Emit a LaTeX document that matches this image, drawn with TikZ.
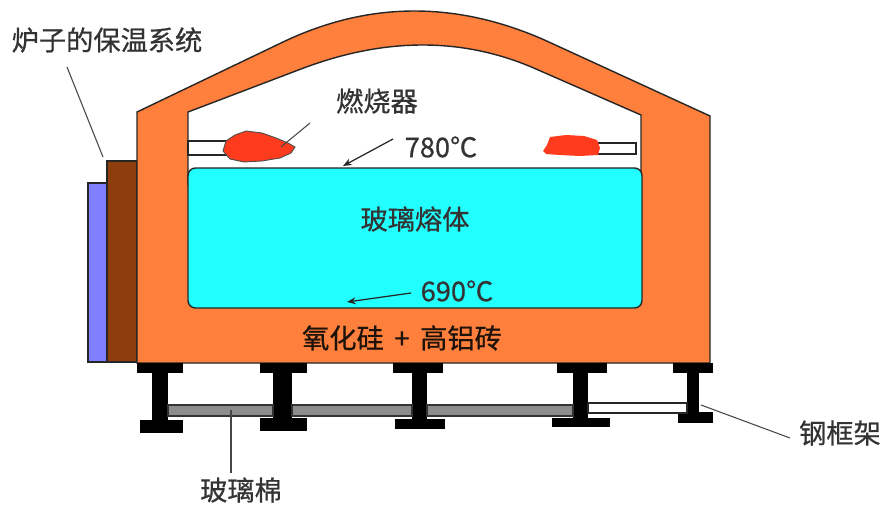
\documentclass[tikz,border=0pt]{standalone}
\usepackage{fontspec}
\newfontfamily\cjk[FakeBold=0.6]{Noto Sans CJK SC}
\usetikzlibrary{arrows.meta}
\definecolor{brick}{HTML}{FF7F3C}
\definecolor{melt}{HTML}{22FFFF}
\definecolor{flame}{HTML}{FF3B1E}
\definecolor{felt}{HTML}{8080FF}
\definecolor{board}{HTML}{8E3E0C}
\definecolor{wool}{HTML}{8C8C8C}
\definecolor{ink}{HTML}{333333}
\tikzset{
  outline/.style={draw=black!85, line width=0.8pt},
  label/.style={font=\cjk\fontsize{15.5}{17}\selectfont, text=ink, inner sep=1pt},
  leader/.style={draw=ink!90, line width=0.6pt},
  pointer/.style={draw=black!85, line width=0.7pt, -{Stealth[length=5pt,width=4pt]}},
  beam/.style={fill=black},
  woolbar/.style={fill=wool, draw=black!80, line width=0.6pt},
}
\begin{document}
\begin{tikzpicture}[x=0.02cm, y=-0.02cm]
  \useasboundingbox (0,0) rectangle (883,507);

  % insulation layers on the left wall
  \fill[felt, outline] (88,183) rectangle (107,362);
  \fill[board, outline] (107,161) rectangle (137,362);

  % refractory body (silica + high-alumina brick)
  \fill[brick, outline] (137,363) -- (137,112) -- (282,42.5)
    .. controls (369.3,0.5) and (458.7,0.5) .. (550,42.5)
    -- (710,116) -- (710,363) -- cycle;

  % combustion space
  \fill[white, outline] (188,185) -- (188,112) -- (301,69)
    .. controls (385,37) and (463.3,37) .. (536,69)
    -- (641,115) -- (641,185);

  % burner tubes
  \fill[white, outline] (188,141) rectangle (226,155);
  \fill[white, outline] (596,143) rectangle (636,154);

  % flames
  \fill[flame, draw=black!70, line width=0.5pt]
    (223,151) -- (226,141) -- (235,135) -- (246,131) -- (262,133)
    -- (276,138) -- (288,143) -- (295,147) -- (291,153) -- (280,158)
    -- (262,161) -- (244,162) -- (230,159) -- cycle;
  \fill[flame]
    (543,151) -- (547,145) -- (550,137) -- (566,135) -- (584,136)
    -- (597,140) -- (600,148) -- (598,155) -- (580,156) -- (560,155)
    -- (546,154) -- cycle;

  % glass melt
  \fill[melt, outline, rounded corners=1.5mm] (188,168) rectangle (642,308);

  % I-beams of the steel frame
  \foreach \tl/\tr/\wl/\wr/\bl/\br/\bt/\bb in {
      137/183/152/168/140/183/420/433,
      260/307/273/292/260/307/418/431,
      393/443/412/427/395/445/419/429,
      557/607/573/588/552/610/418/427,
      673/713/687/699/678/713/412/423}{
    \fill[beam] (\tl,363) rectangle (\tr,373);
    \fill[beam] (\wl,372) rectangle (\wr,\bt+1);
    \fill[beam] (\bl,\bt) rectangle (\br,\bb);
  }

  % glass wool between the beams
  \fill[woolbar] (168,405) rectangle (273,416);
  \fill[woolbar] (292,405) rectangle (412,416);
  \fill[woolbar] (427,405) rectangle (573,416);
  \fill[white, outline, line width=0.6pt] (588,403) rectangle (687,413);

  % labels
  \node[label] (insLbl)   at (107,40)  {炉子的保温系统};
  \node[label] (burnLbl)  at (377,101) {燃烧器};
  \node[label] (topT)     at (441,147) {780℃};
  \node[label] (meltLbl)  at (415,219) {玻璃熔体};
  \node[label] (botT)     at (457,291) {690℃};
  \node[label, text=black!85!brown] (brickLbl) at (402,338) {氧化硅 \,+\, 高铝砖};
  \node[label] (woolLbl)  at (241,490) {玻璃棉};
  \node[label] (frameLbl) at (840,433) {钢框架};

  % leader ends
  \coordinate (insA)   at (67,67);
  \coordinate (insB)   at (103,157);
  \coordinate (burnA)  at (310,123);
  \coordinate (burnB)  at (281,147);
  \coordinate (topA)   at (393,139);
  \coordinate (topB)   at (343,166);
  \coordinate (botA)   at (411,293);
  \coordinate (botB)   at (347,302);
  \coordinate (woolA)  at (231,473);
  \coordinate (woolB)  at (231,410);
  \coordinate (frameA) at (790,438);
  \coordinate (frameB) at (701,405);

  \draw[leader] (insA) -- (insB);
  \draw[leader] (burnA) -- (burnB);
  \draw[pointer] (topA) -- (topB);
  \draw[pointer] (botA) -- (botB);
  \draw[leader] (woolA) -- (woolB);
  \draw[leader] (frameA) -- (frameB);
\end{tikzpicture}
\end{document}
